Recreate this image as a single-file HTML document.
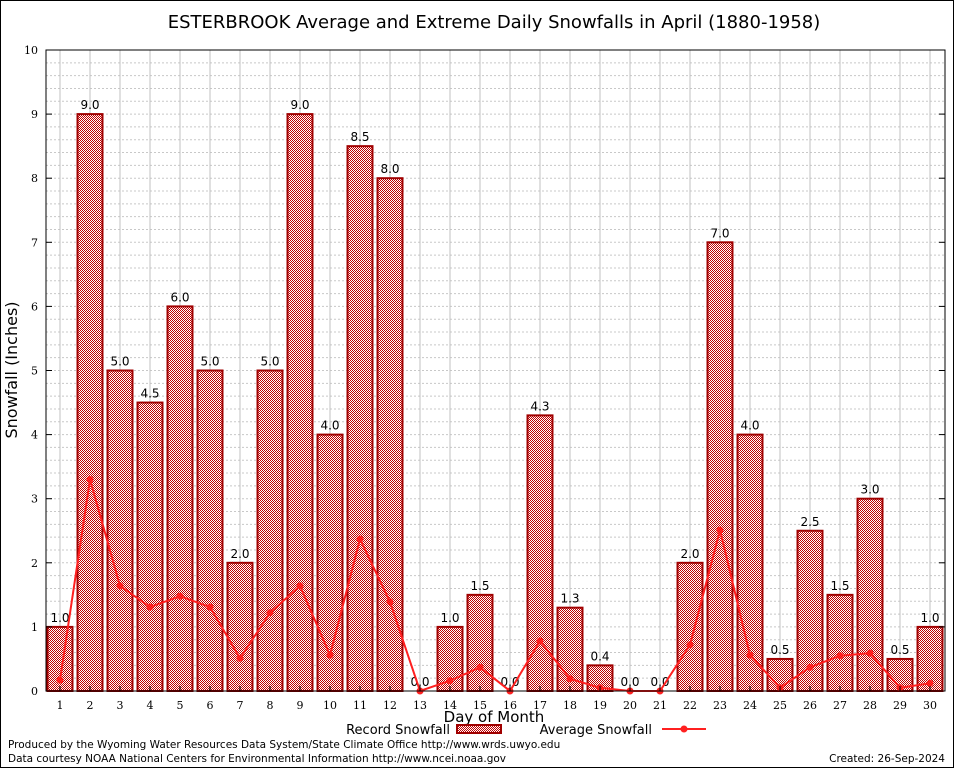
<!DOCTYPE html>
<html><head><meta charset="utf-8"><style>
body{margin:0;background:#fff}
svg{display:block}
</style></head><body>
<svg id="chart" width="954" height="768" xmlns="http://www.w3.org/2000/svg">
<defs>
<pattern id="chk" width="2" height="2" patternUnits="userSpaceOnUse">
<rect width="2" height="2" fill="#fff"/><rect width="1" height="1" fill="#c00000"/><rect x="1" y="1" width="1" height="1" fill="#c00000"/>
</pattern>
</defs>
<rect x="0.5" y="0.5" width="953" height="767" fill="#fff" stroke="#000"/>
<g id="grid"></g>
<g id="bars"></g>
<g id="line"></g>
<g id="axes"></g>
<text x="494" y="28" font-family="DejaVu Sans, sans-serif" font-size="18" text-anchor="middle">ESTERBROOK Average and Extreme Daily Snowfalls in April (1880-1958)</text>
<text x="494" y="722" font-family="DejaVu Sans, sans-serif" font-size="15" text-anchor="middle">Day of Month</text>
<text transform="translate(17,370) rotate(-90)" font-family="DejaVu Sans, sans-serif" font-size="16" text-anchor="middle">Snowfall (Inches)</text>
<g>
<text x="450" y="734" font-family="DejaVu Sans, sans-serif" font-size="13" text-anchor="end">Record Snowfall</text>
<rect x="457" y="725" width="44" height="8" fill="url(#chk)" stroke="#a00000" stroke-width="2"/>
</g>
<g>
<text x="652" y="734" font-family="DejaVu Sans, sans-serif" font-size="13" text-anchor="end">Average Snowfall</text>
<line x1="662" y1="729" x2="706" y2="729" stroke="#ff2020" stroke-width="2"/>
<circle cx="684" cy="729" r="3.5" fill="#ff2020"/>
</g>
<text x="8" y="748" font-family="DejaVu Sans, sans-serif" font-size="10.5">Produced by the Wyoming Water Resources Data System/State Climate Office http://www.wrds.uwyo.edu</text>
<text x="8" y="762" font-family="DejaVu Sans, sans-serif" font-size="10.5">Data courtesy NOAA National Centers for Environmental Information http://www.ncei.noaa.gov</text>
<text x="945" y="762" font-family="DejaVu Sans, sans-serif" font-size="10.5" text-anchor="end">Created:  26-Sep-2024</text>
</svg>
<script>
const days=[1,2,3,4,5,6,7,8,9,10,11,12,13,14,15,16,17,18,19,20,21,22,23,24,25,26,27,28,29,30];
const recordVals=[1.0,9.0,5.0,4.5,6.0,5.0,2.0,5.0,9.0,4.0,8.5,8.0,0.0,1.0,1.5,0.0,4.3,1.3,0.4,0.0,0.0,2.0,7.0,4.0,0.5,2.5,1.5,3.0,0.5,1.0];
const avgVals=[0.17,3.3,1.64,1.31,1.48,1.31,0.51,1.22,1.64,0.56,2.37,1.39,0,0.16,0.37,0,0.78,0.19,0.05,0,0,0.72,2.51,0.56,0.05,0.37,0.55,0.59,0.05,0.12];
const yTicks=[0,1,2,3,4,5,6,7,8,9,10];
const L=46,R=945,T=50,B=691;
const x=d=>60+(d-1)*30;
const y=v=>B-(v/10)*(B-T);
const NS="http://www.w3.org/2000/svg";
function mk(tag,attrs,parent){const e=document.createElementNS(NS,tag);for(const k in attrs)e.setAttribute(k,attrs[k]);parent.appendChild(e);return e;}
const grid=document.getElementById('grid'),bars=document.getElementById('bars'),line=document.getElementById('line'),axes=document.getElementById('axes');
for(let v=0.2;v<10;v+=0.2){const g=mk('line',{x1:L,x2:R,y1:y(v),y2:y(v),stroke:'#c8c8c8','stroke-dasharray':'2,2','stroke-width':1},grid);

}
days.forEach(d=>{const g=mk('line',{x1:x(d),x2:x(d),y1:T,y2:B,stroke:'#c0c0c0','stroke-width':1},grid);

});
days.forEach((d,i)=>{const v=recordVals[i];
if(v>0){const r=mk('rect',{x:x(d)-12.5,y:y(v),width:25,height:B-y(v),fill:'url(#chk)',stroke:'#a00000','stroke-width':2},bars);

}
const t=mk('text',{x:x(d),y:y(v)-5,'font-family':'DejaVu Sans, sans-serif','font-size':12,'text-anchor':'middle'},bars);
t.textContent=v.toFixed(1);

});
const pts=days.map((d,i)=>x(d)+','+y(avgVals[i])).join(' ');
const pl=mk('polyline',{points:pts,fill:'none',stroke:'#ff2020','stroke-width':2},line);


days.forEach((d,i)=>{const c=mk('circle',{cx:x(d),cy:y(avgVals[i]),r:3.5,fill:'#ff2020'},line);

});
const fr=mk('rect',{x:L,y:T,width:R-L,height:B-T,fill:'none',stroke:'#000','stroke-width':1},axes);


yTicks.forEach(v=>{mk('line',{x1:L,x2:L+6,y1:y(v),y2:y(v),stroke:'#000'},axes);mk('line',{x1:R-6,x2:R,y1:y(v),y2:y(v),stroke:'#000'},axes);
const t=mk('text',{x:L-8,y:y(v)+4,'font-family':'DejaVu Serif, serif','font-size':11,'text-anchor':'end'},axes);
t.textContent=v;

});
days.forEach(d=>{mk('line',{x1:x(d),x2:x(d),y1:B,y2:B-5,stroke:'#000'},axes);
const t=mk('text',{x:x(d),y:B+18,'font-family':'DejaVu Serif, serif','font-size':11,'text-anchor':'middle'},axes);
t.textContent=d;

});
</script>
</body></html>
